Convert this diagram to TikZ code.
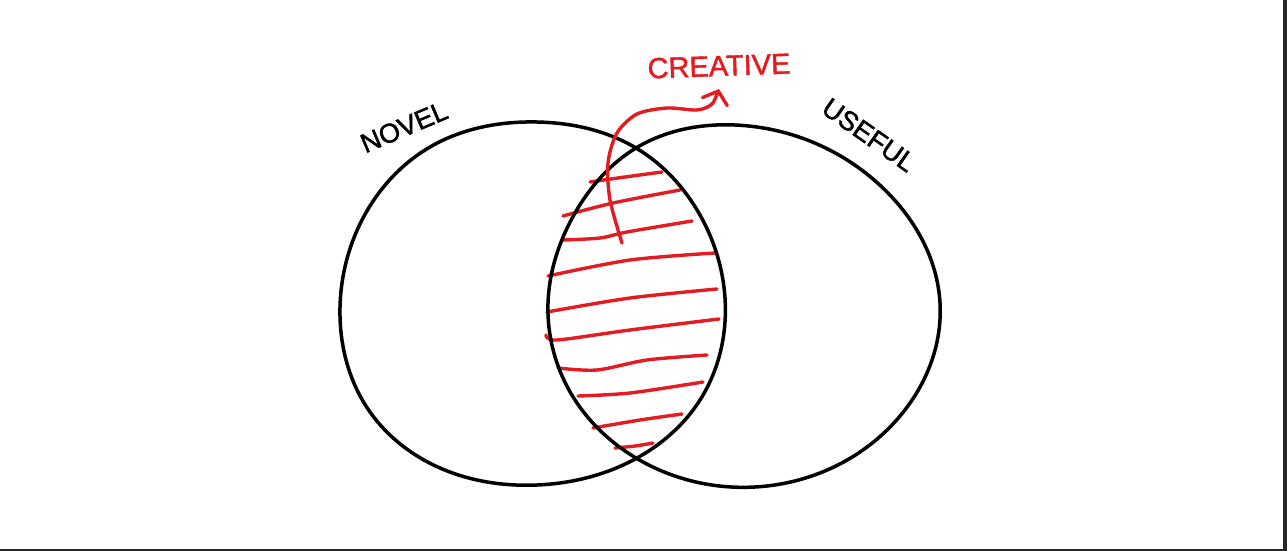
\documentclass[tikz,border=0pt]{standalone}
\usepackage{fontspec}
\setmainfont{Liberation Sans}
\newfontfamily\handfont[FakeBold=1.5]{Liberation Sans}
\usetikzlibrary{arrows.meta,hobby}
\definecolor{penred}{RGB}{228,28,34}
\definecolor{frame}{RGB}{40,40,40}
\tikzset{
  blob/.style={draw=black, line width=3.5pt, line join=round},
  hatch/.style={draw=penred, line width=3.4pt, line cap=round},
  lbl/.style={inner sep=0pt, font=\handfont\fontsize{27}{27}\selectfont},
}
\begin{document}
\begin{tikzpicture}[x=1pt,y=-1pt]
\useasboundingbox (0,0) rectangle (1287,551);
\fill[white] (0,0) rectangle (1287,551);
\fill[frame] (1282.5,0) rectangle (1287,551);
\fill[frame] (0,548.5) rectangle (1287,551);

% hatching
\draw[hatch] plot[smooth] coordinates {(590,182) (625,177) (662,172)};
\draw[hatch] plot[smooth] coordinates {(563,216) (613,203) (680,190)};
\draw[hatch] plot[smooth] coordinates {(563,240) (600,238) (627,232) (692,221)};
\draw[hatch] plot[smooth] coordinates {(548,276) (630,260) (715,253)};
\draw[hatch] plot[smooth] coordinates {(547,312) (630,298) (717,289)};
\draw[hatch] plot[smooth] coordinates {(546,335) (557,340) (630,330) (719,319)};
\draw[hatch] plot[smooth] coordinates {(558,368) (597,370) (647,360) (707,355)};
\draw[hatch] plot[smooth] coordinates {(578,396) (630,393) (703,382)};
\draw[hatch] plot[smooth] coordinates {(593,428) (640,420) (682,414)};
\draw[hatch] plot[smooth] coordinates {(615,448) (635,446) (653,443)};

% novel blob
\draw[blob, use Hobby shortcut, closed=true]
  (537,122) .. (636,148) .. (700,215) .. (725,298) .. (700,400)
  .. (637,458) .. (537,485) .. (440,468) .. (370,412)
  .. (340,307) .. (362,220) .. (430,147);
% useful blob
\draw[blob, use Hobby shortcut, closed=true]
  (735,125) .. (885,190) .. (940,303) .. (892,425) .. (755,487)
  .. (636,458) .. (575,400) .. (548,303) .. (575,213) .. (636,148);

% labels
\node[lbl, rotate=23] (novel) at (404,127) {NOVEL};
\node[lbl, rotate=-35] (useful) at (869,135) {USEFUL};
\node[lbl, text=penred, rotate=2, font=\handfont\fontsize{29}{29}\selectfont] (creative) at (719,66) {CREATIVE};

% arrow
\coordinate (arrowstart) at (622,243);
\coordinate (arrowtip) at (719,89);
\draw[hatch, -{Straight Barb[length=11pt,width=26pt,line cap=round]}]
  plot[smooth] coordinates {(arrowstart) (610,200) (608,163) (617,133) (637,114)
  (667,108) (697,110) (712,104) (arrowtip)};
\end{tikzpicture}
\end{document}
